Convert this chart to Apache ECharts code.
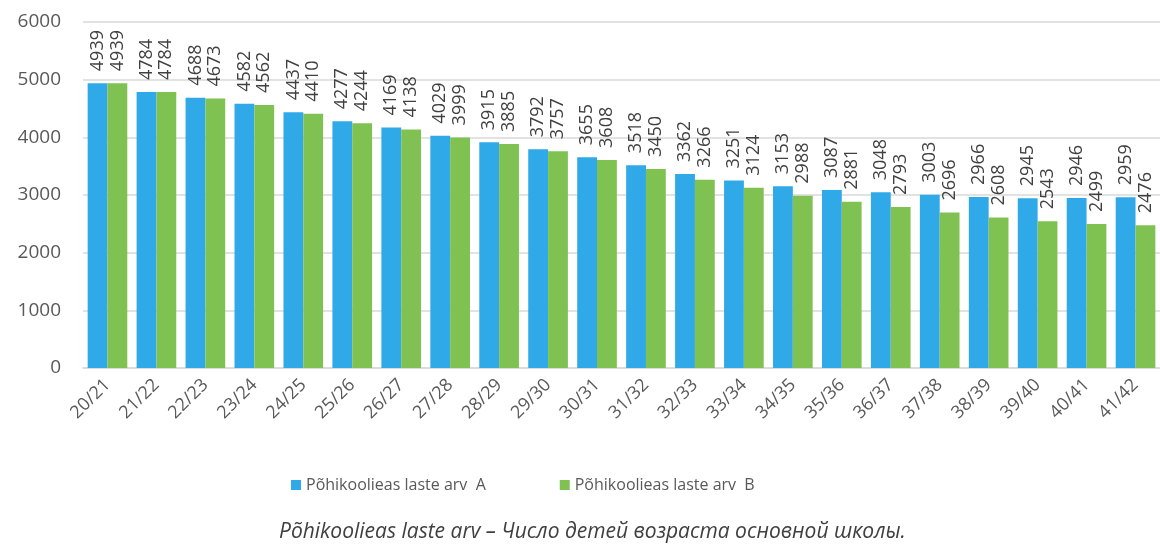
<!DOCTYPE html>
<html>
<head>
<meta charset="utf-8">
<title>Põhikoolieas laste arv</title>
<script src="https://cdn.jsdelivr.net/npm/echarts@6/dist/echarts.min.js"></script>
<style>
  html, body { margin: 0; padding: 0; background: #fff; }
  #chart { width: 1160px; height: 545px; }
</style>
</head>
<body>
<div id="chart"></div>
<script>
// school years
const years = ['20/21', '21/22', '22/23', '23/24', '24/25', '25/26', '26/27', '27/28', '28/29', '29/30', '30/31',
  '31/32', '32/33', '33/34', '34/35', '35/36', '36/37', '37/38', '38/39', '39/40', '40/41', '41/42']

const seriesA = [4939, 4784, 4688, 4582, 4437, 4277, 4169, 4029, 3915, 3792, 3655,
  3518, 3362, 3251, 3153, 3087, 3048, 3003, 2966, 2945, 2946, 2959]
const seriesB = [4939, 4784, 4673, 4562, 4410, 4244, 4138, 3999, 3885, 3757, 3608,
  3450, 3266, 3124, 2988, 2881, 2793, 2696, 2608, 2543, 2499, 2476]

const nameA = 'Põhikoolieas laste arv  A'
const nameB = 'Põhikoolieas laste arv  B'
const caption = 'Põhikoolieas laste arv – Число детей возраста основной школы.'

const font = 'Open Sans'
const textColor = '#595959'

const chart = echarts.init(document.getElementById('chart'))

// value labels stand upright above each bar
const makeLabel = () => ({
  show: true,
  position: 'top',
  rotate: 90,
  align: 'left',
  verticalAlign: 'middle',
  distance: 12,
  color: '#404040',
  fontFamily: font,
  fontSize: 18
})

const option = {
  animation: false,
  title: {
    text: caption,
    left: 274,
    bottom: -3,
    textStyle: {
      fontFamily: font,
      fontStyle: 'italic',
      fontWeight: 'normal',
      fontSize: 21,
      color: '#404040'
    }
  },
  legend: {
    data: [nameA, nameB],
    left: 286,
    top: 472,
    itemWidth: 10,
    itemHeight: 10,
    itemGap: 74,
    icon: 'rect',
    textStyle: { fontFamily: font, fontSize: 16, color: textColor }
  },
  grid: {
    left: 83,
    right: -10,
    top: 22,
    bottom: 177
  },
  xAxis: {
    type: 'category',
    data: years,
    axisLine: { lineStyle: { color: '#d9d9d9', width: 1.5 } },
    axisTick: { show: false },
    axisLabel: {
      rotate: 45,
      interval: 0,
      margin: 14,
      color: textColor,
      fontFamily: font,
      fontSize: 18
    }
  },
  yAxis: {
    type: 'value',
    min: 0,
    max: 6000,
    interval: 1000,
    axisLine: { show: false },
    axisTick: { show: false },
    splitLine: { lineStyle: { color: '#d9d9d9', width: 1.5 } },
    axisLabel: {
      margin: 22,
      color: textColor,
      fontFamily: font,
      fontSize: 19,
      formatter: v => String(v)
    }
  },
  series: [
    {
      name: nameA,
      type: 'bar',
      data: seriesA,
      barGap: '0%',
      barCategoryGap: '19%',
      itemStyle: { color: '#30a9e8' },
      label: makeLabel(),
      labelLayout: { rotate: 90 }
    },
    {
      name: nameB,
      type: 'bar',
      data: seriesB,
      itemStyle: { color: '#80c252' },
      label: makeLabel(),
      labelLayout: { rotate: 90 }
    }
  ]
}

chart.setOption(option)
window.addEventListener('resize', () => chart.resize())
</script>
</body>
</html>
